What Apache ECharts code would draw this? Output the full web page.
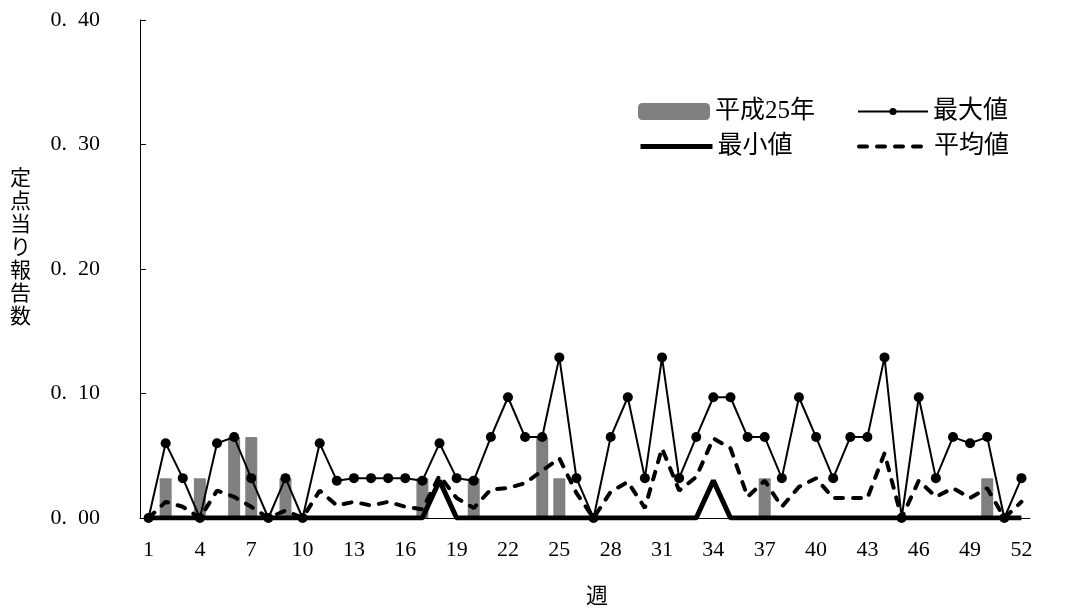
<!DOCTYPE html>
<html>
<head>
<meta charset="utf-8">
<script src="https://cdn.jsdelivr.net/npm/echarts@6/dist/echarts.min.js"></script>
<style>
html, body { margin: 0; padding: 0; background: #fff; }
#chart { width: 1068px; height: 612px; }
</style>
</head>
<body>
<div id="chart"></div>
<script>
// 週 1..52
var weeks = [];
for (var w = 1; w <= 52; w++) weeks.push(String(w));

// 平成25年
var h25 = [0, 0.032, 0, 0.032, 0, 0.065, 0.065, 0, 0.032, 0,
  0, 0, 0, 0, 0, 0, 0.032, 0, 0, 0.032,
  0, 0, 0, 0.065, 0.032, 0, 0, 0, 0, 0,
  0, 0, 0, 0, 0, 0, 0.032, 0, 0, 0,
  0, 0, 0, 0, 0, 0, 0, 0, 0, 0.032,
  0, 0];

// 最大値
var maxVals = [0, 0.06, 0.032, 0, 0.06, 0.065, 0.032, 0, 0.032, 0,
  0.06, 0.03, 0.032, 0.032, 0.032, 0.032, 0.03, 0.06, 0.032, 0.03,
  0.065, 0.097, 0.065, 0.065, 0.129, 0.032, 0, 0.065, 0.097, 0.032,
  0.129, 0.032, 0.065, 0.097, 0.097, 0.065, 0.065, 0.032, 0.097, 0.065,
  0.032, 0.065, 0.065, 0.129, 0, 0.097, 0.032, 0.065, 0.06, 0.065,
  0, 0.032];

// 最小値
var minVals = [0, 0, 0, 0, 0, 0, 0, 0, 0, 0,
  0, 0, 0, 0, 0, 0, 0, 0.03, 0, 0,
  0, 0, 0, 0, 0, 0, 0, 0, 0, 0,
  0, 0, 0, 0.03, 0, 0, 0, 0, 0, 0,
  0, 0, 0, 0, 0, 0, 0, 0, 0, 0,
  0, 0];

// 平均値
var avgVals = [0, 0.013, 0.009, 0, 0.022, 0.017, 0.009, 0, 0.006, 0,
  0.022, 0.01, 0.013, 0.01, 0.013, 0.009, 0.007, 0.034, 0.016, 0.008,
  0.023, 0.024, 0.028, 0.038, 0.048, 0.02, 0, 0.021, 0.029, 0.008,
  0.056, 0.022, 0.033, 0.064, 0.056, 0.017, 0.03, 0.009, 0.025, 0.032,
  0.016, 0.016, 0.016, 0.052, 0, 0.03, 0.017, 0.024, 0.016, 0.024,
  0, 0.013];

var yTicks = [0, 0.1, 0.2, 0.3, 0.4];

var fontFam = '"Liberation Serif", "Noto Sans CJK JP", serif';
var legendText = { color: '#000', fontSize: 25, fontFamily: fontFam };

var chart = echarts.init(document.getElementById('chart'));

function legendAt(name, left, top, extra) {
    var lg = {
        data: [name],
        left: left,
        top: top,
        padding: 0,
        itemWidth: 70,
        itemHeight: 17,
        itemGap: 0,
        textStyle: legendText,
        selectedMode: false
    };
    for (var k in extra) lg[k] = extra[k];
    return lg;
}

var option = {
    backgroundColor: '#fff',
    animation: false,
    grid: {
        left: 140,
        right: 38,
        top: 20,
        bottom: 94,
        outerBoundsMode: 'none'
    },
    legend: [
        legendAt('平成25年', 638, 99, { itemWidth: 72, itemStyle: { borderRadius: 3 } }),
        legendAt('最大値', 857, 99, {
            itemHeight: 9,
            lineStyle: { width: 2 }
        }),
        legendAt('最小値', 638, 134, {
            itemWidth: 72,
            itemStyle: { opacity: 0 },
            lineStyle: { width: 5 }
        }),
        legendAt('平均値', 857, 134, {
            itemStyle: { opacity: 0 },
            lineStyle: { width: 4, type: [8, 10], cap: 'round' }
        })
    ],
    graphic: [{
        type: 'text',
        left: 10,
        top: 168,
        style: {
            text: '定\n点\n当\nり\n報\n告\n数',
            fontSize: 21,
            lineHeight: 23,
            fontFamily: fontFam,
            fill: '#000'
        }
    }],
    xAxis: {
        type: 'category',
        data: weeks,
        boundaryGap: true,
        name: '週',
        nameLocation: 'middle',
        nameGap: 68,
        nameTextStyle: { color: '#000', fontSize: 22, fontFamily: fontFam, padding: [0, 0, 0, 24] },
        axisLine: { lineStyle: { color: '#000', width: 1 } },
        axisTick: { inside: true, length: 5, lineStyle: { color: '#888' } },
        axisLabel: {
            interval: 2,
            margin: 21,
            color: '#000',
            fontSize: 22,
            fontFamily: fontFam
        }
    },
    yAxis: {
        type: 'value',
        min: yTicks[0],
        max: yTicks[yTicks.length - 1],
        interval: 0.1,
        splitLine: { show: false },
        axisLine: { show: true, lineStyle: { color: '#000', width: 1 } },
        axisTick: { show: true, inside: true, length: 6, lineStyle: { color: '#000' } },
        axisLabel: {
            margin: 40,
            color: '#000',
            fontSize: 22,
            fontFamily: fontFam,
            formatter: function (v) {
                return v.toFixed(2).replace('.', '.\u2002');
            }
        }
    },
    series: [
        {
            name: '平成25年',
            type: 'bar',
            data: h25,
            barWidth: 12,
            itemStyle: { color: '#808080', borderRadius: 1 },
            z: 1
        },
        {
            name: '最小値',
            type: 'line',
            data: minVals,
            symbol: 'none',
            lineStyle: { color: '#000', width: 5 },
            itemStyle: { color: '#000' },
            z: 3
        },
        {
            name: '平均値',
            type: 'line',
            data: avgVals,
            symbol: 'none',
            lineStyle: { color: '#000', width: 4, type: [8, 10], cap: 'round' },
            itemStyle: { color: '#000' },
            z: 4
        },
        {
            name: '最大値',
            type: 'line',
            data: maxVals,
            symbol: 'circle',
            symbolSize: 10,
            lineStyle: { color: '#000', width: 2 },
            itemStyle: { color: '#000' },
            z: 5
        }
    ]
};

chart.setOption(option);
</script>
</body>
</html>
